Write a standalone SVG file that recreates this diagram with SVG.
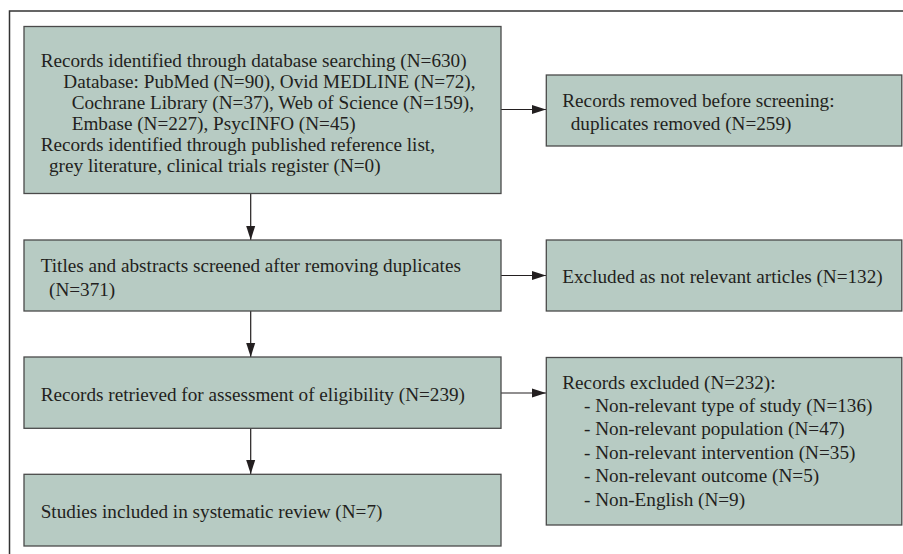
<svg xmlns="http://www.w3.org/2000/svg" width="903" height="554" viewBox="0 0 903 554">
  <style>
    .box { fill: #b7cbc3; stroke: #4a4a4a; stroke-width: 1.3; }
    .t { font-family: "Liberation Serif", "Times New Roman", serif; font-size: 19.2px; fill: #231f20; }
    .ln { stroke: #231f20; stroke-width: 1.2; fill: none; }
  </style>
  <defs>
    <marker id="ah" markerWidth="14" markerHeight="10" refX="14" refY="5" orient="auto" markerUnits="userSpaceOnUse">
      <path d="M0,0.5 L14,5 L0,9.5 Z" fill="#231f20"/>
    </marker>
  </defs>
  <rect width="903" height="554" fill="#ffffff"/>
  <path d="M9.5,554 V11 H903" fill="none" stroke="#333333" stroke-width="1.5"/>

  <g id="connectors">
    <line class="ln" x1="250.7" y1="193" x2="250.7" y2="240" marker-end="url(#ah)"/>
    <line class="ln" x1="250.7" y1="311" x2="250.7" y2="357" marker-end="url(#ah)"/>
    <line class="ln" x1="250.7" y1="428" x2="250.7" y2="474" marker-end="url(#ah)"/>
    <line class="ln" x1="501" y1="109.5" x2="546" y2="109.5" marker-end="url(#ah)"/>
    <line class="ln" x1="501" y1="275.5" x2="546" y2="275.5" marker-end="url(#ah)"/>
    <line class="ln" x1="501" y1="393" x2="546" y2="393" marker-end="url(#ah)"/>
  </g>

  <g id="identified">
    <rect class="box" x="24" y="26.5" width="477" height="167"/>
    <text class="t" x="40.7" y="66.5">Records identified through database searching (N=630)</text>
    <text class="t" x="63.3" y="87.5">Database: PubMed (N=90), Ovid MEDLINE (N=72),</text>
    <text class="t" x="71.7" y="108.5">Cochrane Library (N=37), Web of Science (N=159),</text>
    <text class="t" x="71.7" y="129.5">Embase (N=227), PsycINFO (N=45)</text>
    <text class="t" x="40.7" y="150.5">Records identified through published reference list,</text>
    <text class="t" x="49" y="171.5">grey literature, clinical trials register (N=0)</text>
  </g>

  <g id="removed">
    <rect class="box" x="546.3" y="75" width="355.5" height="71"/>
    <text class="t" x="562.3" y="106.5">Records removed before screening:</text>
    <text class="t" x="570.7" y="130">duplicates removed (N=259)</text>
  </g>

  <g id="screened">
    <rect class="box" x="24" y="240" width="477" height="71"/>
    <text class="t" x="40.7" y="271.5">Titles and abstracts screened after removing duplicates</text>
    <text class="t" x="49" y="296">(N=371)</text>
  </g>

  <g id="excluded1">
    <rect class="box" x="546.3" y="240" width="355.5" height="71"/>
    <text class="t" x="562.3" y="283">Excluded as not relevant articles (N=132)</text>
  </g>

  <g id="retrieved">
    <rect class="box" x="24" y="357" width="477" height="71.3"/>
    <text class="t" x="40.7" y="400.5">Records retrieved for assessment of eligibility (N=239)</text>
  </g>

  <g id="excluded2">
    <rect class="box" x="546.3" y="357.5" width="355.5" height="167.5"/>
    <text class="t" x="562.3" y="388.5">Records excluded (N=232):</text>
    <text class="t" x="584" y="411.7">- Non-relevant type of study (N=136)</text>
    <text class="t" x="584" y="435.2">- Non-relevant population (N=47)</text>
    <text class="t" x="584" y="458.7">- Non-relevant intervention (N=35)</text>
    <text class="t" x="584" y="482.2">- Non-relevant outcome (N=5)</text>
    <text class="t" x="584" y="505.7">- Non-English (N=9)</text>
  </g>

  <g id="included">
    <rect class="box" x="24" y="474.3" width="477" height="71.7"/>
    <text class="t" x="40.7" y="518">Studies included in systematic review (N=7)</text>
  </g>
</svg>
